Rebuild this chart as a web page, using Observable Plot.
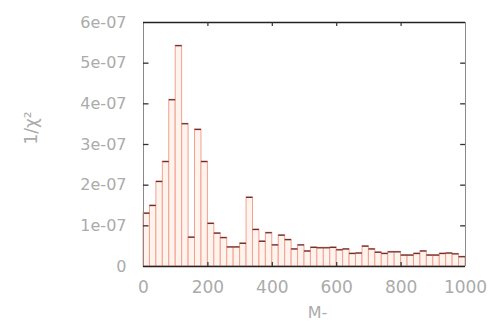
<!DOCTYPE html>
<html>
<head>
<meta charset="utf-8">
<script src="https://cdn.jsdelivr.net/npm/d3@7"></script>
<script src="https://cdn.jsdelivr.net/npm/@observablehq/plot@0.6"></script>
<style>
  html, body { margin: 0; padding: 0; background: #fff; }
</style>
</head>
<body>
<div id="chart"></div>
<script>
// Weighted histogram of M, 20-wide bins from 0 to 1000 (values in units of 1e-7)
const binWidth = 20;
const binValues = [
  1.31, 1.50, 2.09, 2.58, 4.10, 5.43, 3.51, 0.72, 3.37, 2.58,
  1.06, 0.82, 0.71, 0.48, 0.48, 0.57, 1.70, 0.91, 0.62, 0.83,
  0.53, 0.77, 0.66, 0.43, 0.53, 0.38, 0.47, 0.46, 0.46, 0.47,
  0.41, 0.43, 0.32, 0.33, 0.50, 0.43, 0.35, 0.32, 0.36, 0.36,
  0.28, 0.28, 0.32, 0.38, 0.28, 0.28, 0.32, 0.33, 0.31, 0.24
];
const xTicks = [0, 200, 400, 600, 800, 1000];
const xTickLabels = ["0", "200", "400", "600", "800", "1000"];
const yTicks = [0, 1e-7, 2e-7, 3e-7, 4e-7, 5e-7, 6e-7];
const yTickLabels = ["0", "1e-07", "2e-07", "3e-07", "4e-07", "5e-07", "6e-07"];
const xTitle = "M-";
const yTitle = "1/χ²";

const bins = binValues.map((v, i) => ({
  lo: i * binWidth,
  hi: (i + 1) * binWidth,
  v: v * 1e-7
}));

const labelColor = "#ababab";
const innerX = xTicks.slice(1, -1);
const innerY = yTicks.slice(1, -1);

const chart = Plot.plot({
  width: 497,
  height: 328,
  marginLeft: 143,
  marginRight: 32,
  marginTop: 22,
  marginBottom: 62,
  style: { fontFamily: "DejaVu Sans", fontSize: "16px", color: labelColor, background: "#fff" },
  x: { domain: [0, 1000] },
  y: { domain: [0, 6e-7] },
  marks: [
    // bars
    Plot.rectY(bins, { x1: "lo", x2: "hi", y: "v", fill: "#fff3ed", stroke: "#f2a091", strokeWidth: 1 }),
    // bar tops
    Plot.ruleY(bins, { y: "v", x1: "lo", x2: "hi", stroke: "#6a3030", strokeWidth: 1.3 }),
    // frame
    Plot.ruleX([0, 1000], { stroke: "#8a8a8a", strokeWidth: 1 }),
    Plot.ruleY([0, 6e-7], { stroke: "#222", strokeWidth: 1.5 }),
    // inward tick marks
    Plot.ruleY(innerY, { x1: 0, x2: 17, stroke: "#333", strokeWidth: 1.3 }),
    Plot.ruleY(innerY, { x1: 985, x2: 1000, stroke: "#333", strokeWidth: 1.3 }),
    Plot.ruleX(innerX, { y1: 6e-7, y2: 5.9e-7, stroke: "#333", strokeWidth: 1.2 }),
    Plot.ruleX(innerX, { y1: 0, y2: 0.1e-7, stroke: "#333", strokeWidth: 1.2 }),
    // axes
    Plot.axisY({
      ticks: yTicks,
      tickFormat: d => yTickLabels[yTicks.indexOf(d)],
      tickSize: 0,
      tickPadding: 17,
      label: null,
      fill: labelColor
    }),
    Plot.axisX({
      ticks: xTicks,
      tickFormat: d => xTickLabels[xTicks.indexOf(d)],
      tickSize: 0,
      tickPadding: 14,
      label: null,
      fill: labelColor,
      fontSize: 17
    }),
    // axis titles
    Plot.text([xTitle], { frameAnchor: "bottom", dx: 13, dy: 46, lineAnchor: "middle", fill: labelColor, fontSize: 16 }),
    Plot.text([yTitle], { frameAnchor: "left", dx: -112, rotate: -90, lineAnchor: "middle", fill: labelColor, fontSize: 17 })
  ]
});

document.getElementById("chart").appendChild(chart);
</script>
</body>
</html>
